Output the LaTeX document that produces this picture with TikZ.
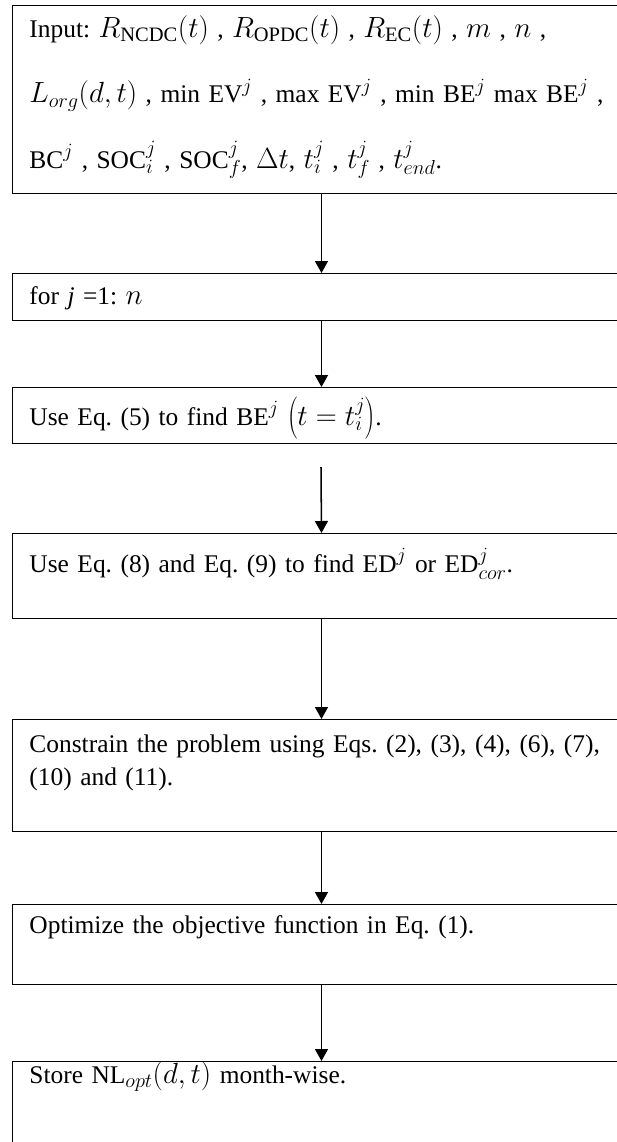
\documentclass[tikz,border=0pt]{standalone}
\usepackage{fontspec}
\setmainfont{Liberation Serif}
\usetikzlibrary{arrows.meta}
\DeclareMathSizes{21.7}{24.5}{17.5}{14}
\frenchspacing
\begin{document}
\begin{tikzpicture}[x=0.03cm, y=-0.03cm,
  box/.style={draw, line width=0.8pt, anchor=north west, inner xsep=0.51cm, inner ysep=0pt,
    minimum width=18.54cm, text width=17.52cm, align=left,
    font=\fontsize{21.7}{24}\selectfont},
  arr/.style={line width=1.3pt, -{Triangle[width=0.39cm,length=0.36cm]}}]
\useasboundingbox (0,0) rectangle (617,1142);
\clip (0,0) rectangle (617,1142);
\node (input) [box, text height=0.96cm, text depth=4.68cm] at (12,5)
  {\fontsize{21.7}{55.9}\selectfont\begin{tabular}[t]{@{}l@{}}
  Input: $R_{\mathrm{NCDC}}(t)$ , $R_{\mathrm{OPDC}}(t)$ , $R_{\mathrm{EC}}(t)$ , $m$ , $n$ ,\\
  $L_{org}(d,t)$ , min EV$^j$ , max EV$^j$ , min BE$^j$ max BE$^j$ ,\\
  BC$^j$ , SOC$_i^j$ , SOC$_f^j$, $\Delta t$, $t_i^j$ , $t_f^j$ , $t_{end}^j$.
  \end{tabular}};
\node (loop) [box, text height=0.93cm, text depth=0.48cm] at (12,273) {for \textit{j} =1: $n$};
\node (findbe) [box, text height=1.14cm, text depth=0.54cm] at (12,387)
  {Use Eq. (5) to find BE$^j$ $\left(t = t_i^j\right)$.};
\node (finded) [box, text height=1.17cm, text depth=1.38cm] at (12,533)
  {Use Eq. (8) and Eq. (9) to find ED$^j$ or ED$_{cor}^j$.};
\node (constr) [box, text height=0.99cm, text depth=2.37cm] at (12,719)
  {\fontsize{21.7}{28.1}\selectfont\begin{tabular}[t]{@{}l@{}}
  Constrain the problem using Eqs. (2), (3), (4), (6), (7),\\
  (10) and (11).
  \end{tabular}};
\node (optim) [box, text height=0.87cm, text depth=1.53cm] at (12,904)
  {Optimize the objective function in Eq. (1).};
\node (store) [box, text height=0.66cm, text depth=3cm] at (12,1061)
  {Store NL$_{opt}(d,t)$ month-wise.};
\coordinate (gap) at (321,467);
\draw [arr] (input.south) -- (loop.north);
\draw [arr] (loop.south) -- (findbe.north);
\draw [arr] (gap) -- (finded.north);
\draw [arr] (finded.south) -- (constr.north);
\draw [arr] (constr.south) -- (optim.north);
\draw [arr] (optim.south) -- (store.north);
\end{tikzpicture}
\end{document}
